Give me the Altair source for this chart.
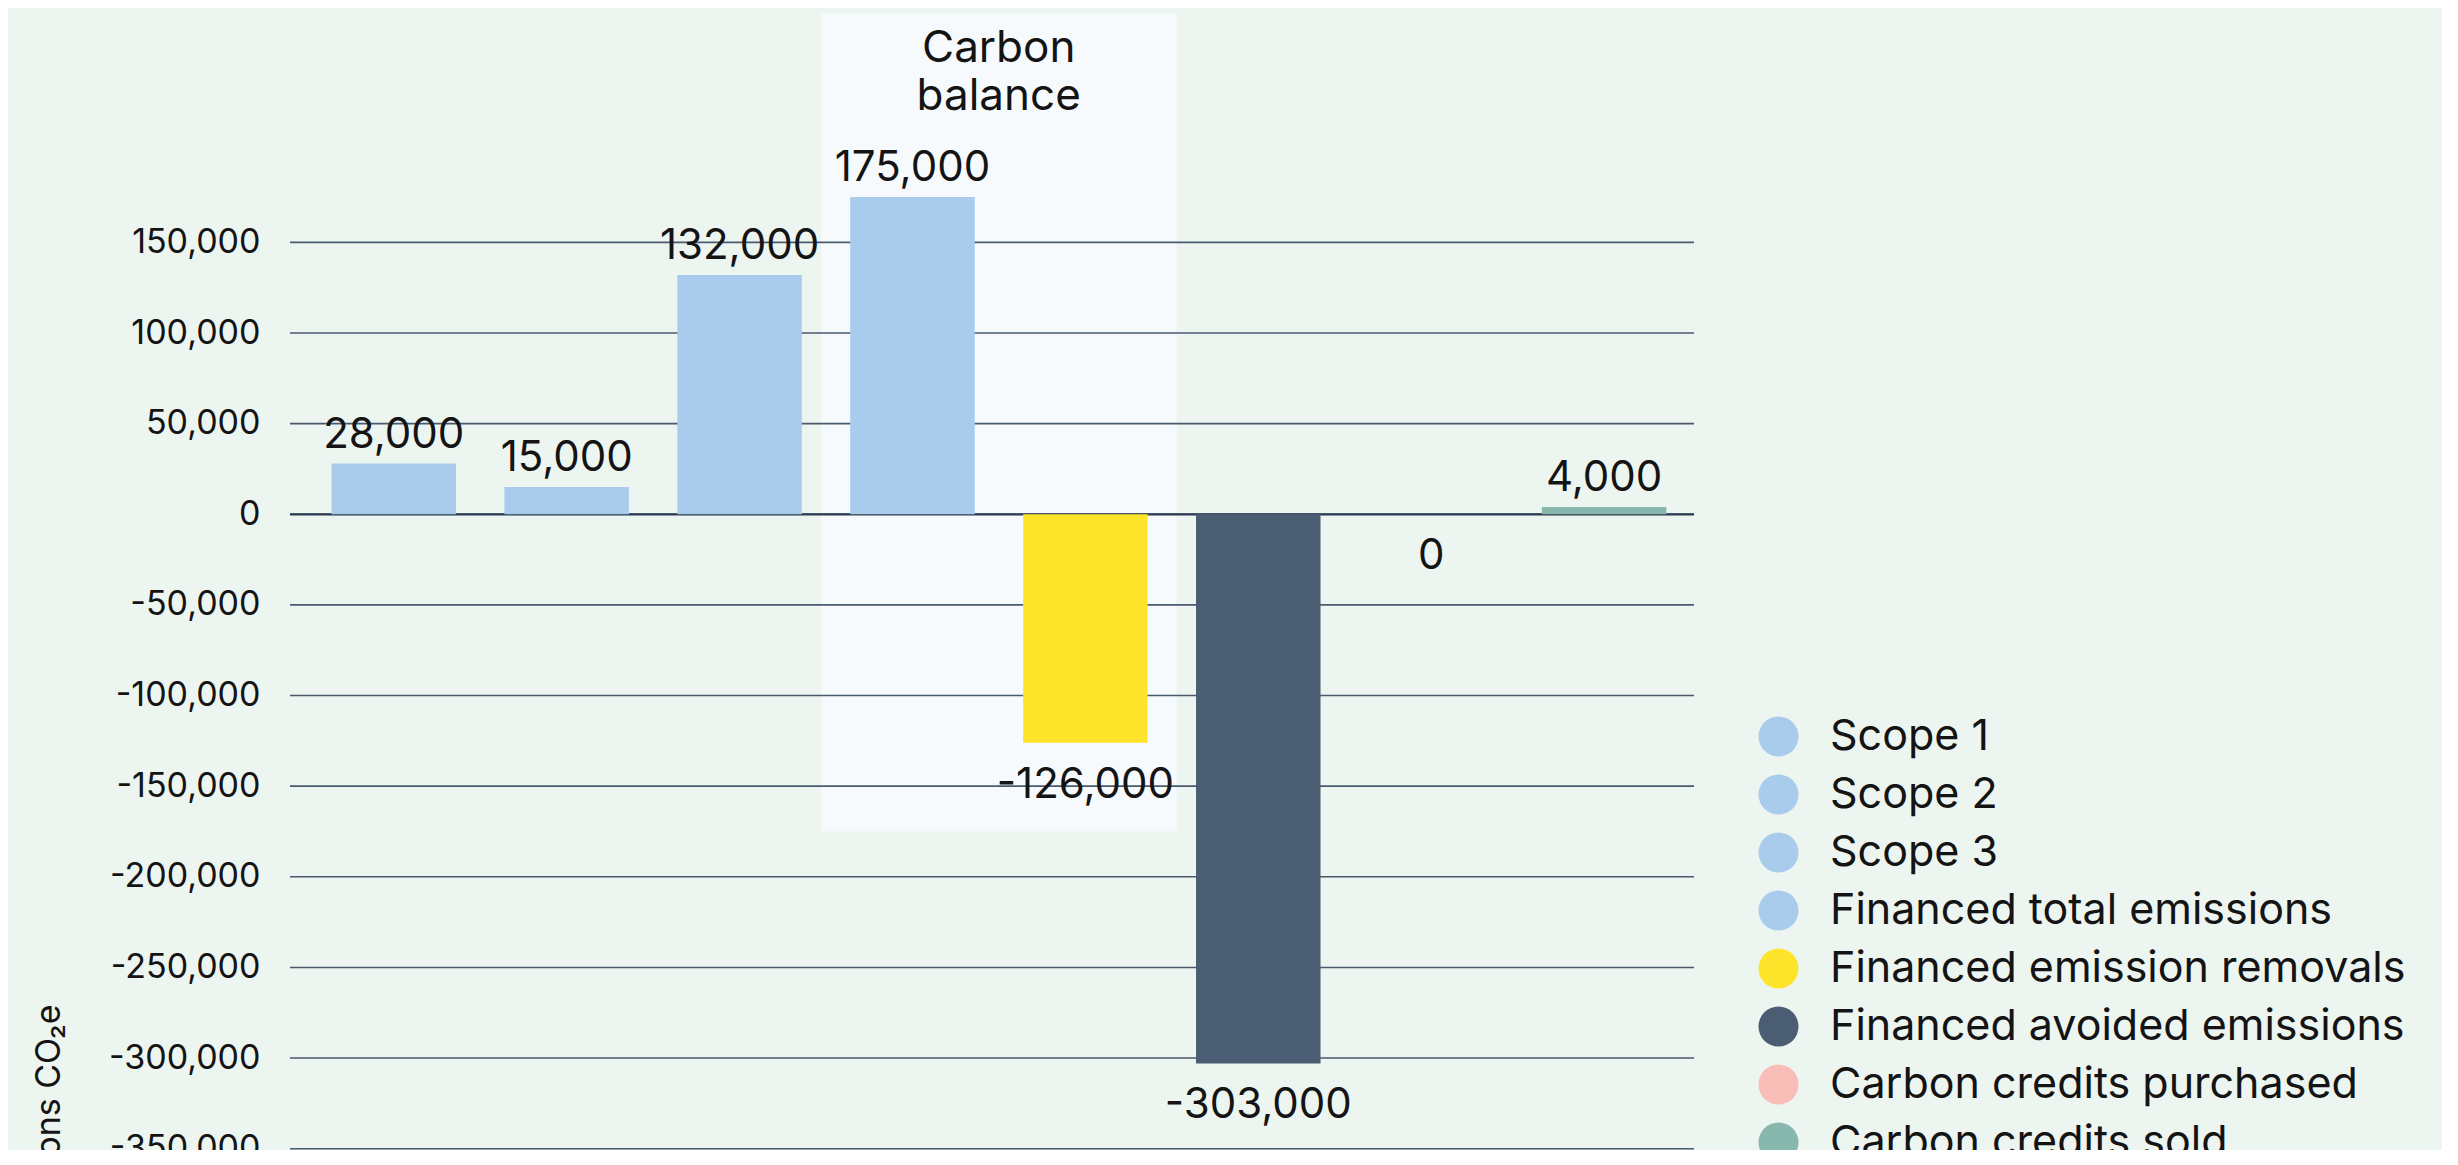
import altair as alt
import pandas as pd

categories = [
    "Scope 1",
    "Scope 2",
    "Scope 3",
    "Financed total emissions",
    "Financed emission removals",
    "Financed avoided emissions",
    "Carbon credits purchased",
    "Carbon credits sold",
]
values = [28000, 15000, 132000, 175000, -126000, -303000, 0, 4000]
colors = ["#A9CCEC", "#A9CCEC", "#A9CCEC", "#A9CCEC", "#FFE42C", "#4B5D73", "#F7BDB6", "#87B7AD"]
tick_values = [150000, 100000, 50000, 0, -50000, -100000, -150000, -200000, -250000, -300000, -350000]
y_domain = [-359000, 276000]
panel_start = "Financed total emissions"
panel_end = "Financed emission removals"
panel_low = -175000
panel_high = 276000
panel_title = ["Carbon", "balance"]
axis_title = "tons CO\u2082e"

FONT = "Inter"
TEXT = "#141414"

df = pd.DataFrame({"category": categories, "value": values})
ticks_df = pd.DataFrame({"tick": tick_values})
panel_df = pd.DataFrame({"start": [panel_start], "end": [panel_end], "low": [panel_low], "high": [panel_high]})

xscale = alt.Scale(domain=categories, paddingInner=0.28, paddingOuter=0.2, align=0.6)
yscale = alt.Scale(domain=y_domain, nice=False, zero=False)

yaxis = alt.Axis(
    values=tick_values,
    labelExpr="replace(format(datum.value, ','), '\u2212', '-')",
    title=axis_title,
)

panel = alt.Chart(panel_df).mark_rect(color="#F6FAFD", xOffset=-29, x2Offset=29).encode(
    x=alt.X("start:N", scale=xscale, axis=None, bandPosition=0),
    x2=alt.X2("end", bandPosition=1),
    y=alt.Y("low:Q", scale=yscale, axis=yaxis),
    y2=alt.Y2("high"),
)

panel_text = alt.Chart(panel_df).mark_text(
    font=FONT, fontSize=44, color=TEXT, baseline="alphabetic", align="center", lineHeight=48, dy=48, dx=24
).encode(
    x=alt.X("start:N", scale=xscale, axis=None, bandPosition=1),
    y=alt.Y("high:Q", scale=yscale, axis=yaxis),
    text=alt.value(panel_title),
)

grid = alt.Chart(ticks_df).mark_rule(color="#4A5A6E", strokeWidth=1.6).encode(
    y=alt.Y("tick:Q", scale=yscale, axis=yaxis),
)

zero = alt.Chart(ticks_df).transform_filter("datum.tick == 0").mark_rule(
    color="#2B3B50", strokeWidth=2.2
).encode(
    y=alt.Y("tick:Q", scale=yscale, axis=yaxis),
)

bars = alt.Chart(df).mark_bar().encode(
    x=alt.X("category:N", scale=xscale, axis=None),
    y=alt.Y("value:Q", scale=yscale, axis=yaxis),
    color=alt.Color(
        "category:N",
        scale=alt.Scale(domain=categories, range=colors),
        legend=alt.Legend(
            title=None,
            orient="none",
            legendX=1467,
            legendY=701,
            symbolType="circle",
            symbolSize=1600,
            symbolStrokeWidth=0,
            symbolOpacity=1,
            labelFont=FONT,
            labelFontSize=43,
            labelColor=TEXT,
            labelOffset=30,
            labelLimit=800,
            rowPadding=14,
            padding=0,
        ),
    ),
)

label_expr = "replace(format(datum.value, ','), '\u2212', '-')"

pos_text = alt.Chart(df).transform_filter("datum.value > 0").transform_calculate(
    label=label_expr
).mark_text(
    font=FONT, fontSize=42, color=TEXT, baseline="alphabetic", align="center", dy=-16
).encode(
    x=alt.X("category:N", scale=xscale, axis=None),
    y=alt.Y("value:Q", scale=yscale, axis=yaxis),
    text=alt.Text("label:N"),
)

neg_text = alt.Chart(df).transform_filter("datum.value <= 0").transform_calculate(
    label=label_expr
).mark_text(
    font=FONT, fontSize=42, color=TEXT, baseline="alphabetic", align="center", dy=55
).encode(
    x=alt.X("category:N", scale=xscale, axis=None),
    y=alt.Y("value:Q", scale=yscale, axis=yaxis),
    text=alt.Text("label:N"),
)

chart = alt.layer(panel, grid, zero, bars, pos_text, neg_text, panel_text).properties(
    width=1404,
    height=1151,
    autosize=alt.AutoSizeParams(type="none"),
    padding={"left": 282, "top": 6, "right": 748, "bottom": -15},
    background="#EDF5F1",
).configure_view(
    stroke=None
).configure_axisY(
    grid=False,
    domain=False,
    ticks=False,
    labelFont=FONT,
    labelFontSize=34,
    labelColor=TEXT,
    labelPadding=30,
    titleFont=FONT,
    titleFontSize=34,
    titleFontWeight="normal",
    titleColor=TEXT,
    titleAngle=270,
    titleAlign="left",
    titleBaseline="middle",
    titleX=-241,
    titleY=1153,
)

chart.save("out.html", embed_options={"renderer": "svg", "actions": False})
